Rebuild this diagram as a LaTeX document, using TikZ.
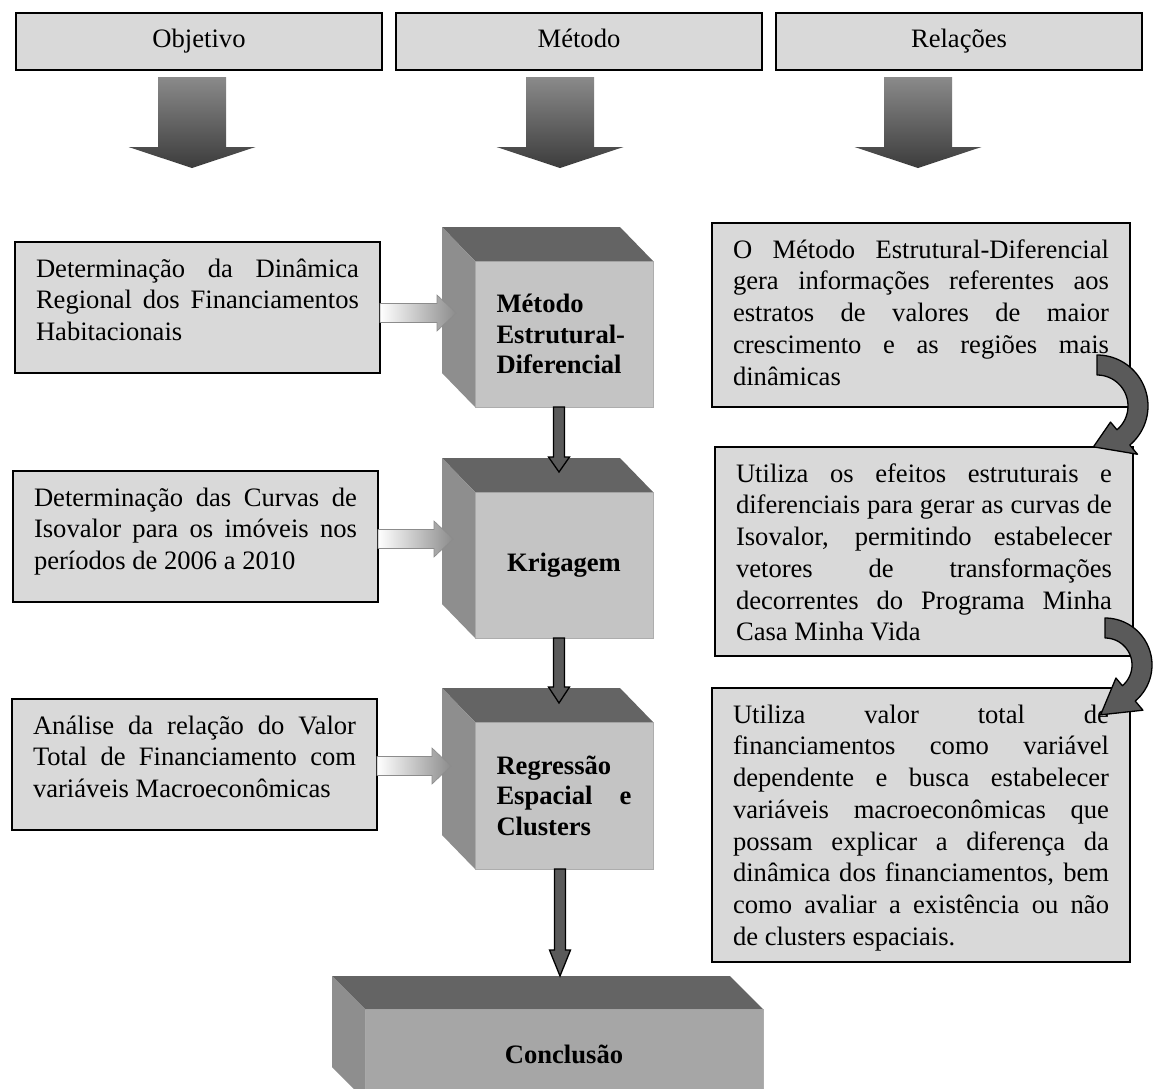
\documentclass[tikz,border=0pt]{standalone}
\usepackage{fontspec}
\setmainfont{Liberation Serif}
\usetikzlibrary{calc}
\definecolor{boxgray}{HTML}{D9D9D9}
\definecolor{frontgray}{HTML}{C4C4C4}
\definecolor{frontdark}{HTML}{A6A6A6}
\definecolor{frontline}{HTML}{ADADAD}
\definecolor{topgray}{HTML}{646464}
\definecolor{leftgray}{HTML}{8E8E8E}
\definecolor{arrgray}{HTML}{5A5A5A}
\definecolor{bigtop}{HTML}{8A8A8A}
\definecolor{bigbot}{HTML}{3C3C3C}
\definecolor{smallarr}{HTML}{8C8C8C}
\tolerance=10000 \hbadness=10000 \hyphenpenalty=10000
\newcommand\tbox[7]{\node[tb] (#1) at (#2,#3) {\parbox[c][#5pt][t]{#4pt}{\strut #7}};}
\newcommand\cubefaces[1]{%
  \fill[topgray] (#1.north west) -- ++(-33,-34) -- ($(#1.north east)+(-33,-34)$) -- (#1.north east) -- cycle;
  \fill[leftgray] (#1.north west) -- ++(-33,-34) -- ($(#1.south west)+(-33,-34)$) -- (#1.south west) -- cycle;}
\newcommand\harrow[2]{%
  \shadedraw[left color=white, right color=smallarr, draw=smallarr, line width=0.6pt]
    ($(#1.east |- #2)+(0,-9.5)$) -- ($(#2)+(-19,-9.5)$) -- ($(#2)+(-19,-18)$) -- (#2)
    -- ($(#2)+(-19,18)$) -- ($(#2)+(-19,9.5)$) -- ($(#1.east |- #2)+(0,9.5)$) -- cycle;}
\newcommand\varrow[3]{%
  \draw[fill=arrgray, draw=black, line width=1.3pt, line join=miter]
    ($(#1.south -| #2)+(-5.5,0)$) -- ($(#2)+(-5.5,-#3)$) -- ($(#2)+(-10.5,-#3)$) -- (#2)
    -- ($(#2)+(10.5,-#3)$) -- ($(#2)+(5.5,-#3)$) -- ($(#1.south -| #2)+(5.5,0)$) -- cycle;}
\newcommand\bigdown[2]{%
  \shade[top color=bigtop, bottom color=bigbot]
    ($(#1.south)+(#2-34,7)$) -- ($(#1.south)+(#2+34,7)$) -- ($(#1.south)+(#2+34,77)$)
    -- ($(#1.south)+(#2+63.5,77)$) -- ($(#1.south)+(#2,98)$) -- ($(#1.south)+(#2-63.5,77)$)
    -- ($(#1.south)+(#2-34,77)$) -- cycle;}
% curved arrow: centre x, centre y, outer radius, tip radius
\newcommand\curvarr[4]{%
  \draw[fill=arrgray, draw=black, line width=1.3pt, line join=round]
    plot[domain=-90:50, samples=40] ({#1+#3*cos(\x)},{#2+#3*sin(\x)})
    -- ({#1+(#3+12)*cos(50)},{#2+(#3+12)*sin(50)})
    -- ({#1+#4*cos(95)},{#2+#4*sin(95)})
    -- ({#1+(#3-30)*cos(50)},{#2+(#3-30)*sin(50)})
    -- plot[domain=50:-90, samples=40] ({#1+(#3-20)*cos(\x)},{#2+(#3-20)*sin(\x)})
    -- cycle;}
\begin{document}
\begin{tikzpicture}[x=1pt,y=-1pt,
  every node/.style={font=\fontsize{26.6}{31.7}\selectfont, outer sep=0pt},
  hb/.style={draw=black, line width=1.8pt, fill=boxgray, minimum width=366pt, minimum height=57pt, anchor=north west, inner sep=0pt, text height=18pt, text depth=6pt},
  tb/.style={draw=black, line width=1.8pt, fill=boxgray, anchor=north west, inner xsep=21pt, inner ysep=13pt},
  cubefront/.style={fill=frontgray, draw=frontline, line width=1pt, anchor=north west, minimum width=178pt, inner sep=0pt, text width=135pt, align=left, font=\bfseries\fontsize{26.6}{30.5}\selectfont}
]
\useasboundingbox (0,0) rectangle (1153,1088);
\clip (0,0) rectangle (1153,1088);
\fill[white] (0,0) rectangle (1153,1088);

% headers
\node[hb] (h1) at (16,13) {Objetivo};
\node[hb] (h2) at (396,13) {Método};
\node[hb] (h3) at (776,13) {Relações};
\bigdown{h1}{-7}
\bigdown{h2}{-19}
\bigdown{h3}{-41}

% left boxes
\tbox{b1}{15}{242}{323}{105}{}{Determinação da Dinâmica\linebreak Regional dos Financiamentos\linebreak Habitacionais}
\tbox{b2}{13}{471}{323}{105}{}{Determinação das Curvas de\linebreak Isovalor para os imóveis nos\linebreak períodos de 2006 a 2010}
\tbox{b3}{12}{699}{323}{105}{}{Análise da relação do Valor\linebreak Total de Financiamento com\linebreak variáveis Macroeconômicas}

% right boxes
\tbox{r1}{712}{223}{376}{158}{}{O Método Estrutural-Diferencial\linebreak gera informações referentes aos\linebreak estratos de valores de maior\linebreak crescimento e as regiões mais\linebreak dinâmicas}
\tbox{r2}{715}{447}{376}{183}{}{Utiliza os efeitos estruturais e\linebreak diferenciais para gerar as curvas de\linebreak Isovalor, permitindo estabelecer\linebreak vetores de transformações\linebreak decorrentes do Programa Minha\linebreak Casa Minha Vida}
\tbox{r3}{712}{688}{376}{248}{}{Utiliza valor total de\linebreak financiamentos como variável\linebreak dependente e busca estabelecer\linebreak variáveis macroeconômicas que\linebreak possam explicar a diferença da\linebreak dinâmica dos financiamentos, bem\linebreak como avaliar a existência ou não\linebreak de clusters espaciais.}

% cubes
\node[cubefront, minimum height=146pt] (c1) at (475,261) {Método\\Estrutural-\\Diferencial};
\node[cubefront, minimum height=146pt, align=center] (c2) at (475,492) {Krigagem};
\node[cubefront, minimum height=147pt] (c3) at (475,722) {Regressão\\Espacial\hfill e\\Clusters};
\node[cubefront, fill=frontdark, minimum width=398pt, minimum height=91pt, text width=300pt, align=center] (c4) at (365,1009) {Conclusão};
\cubefaces{c1}
\cubefaces{c2}
\cubefaces{c3}
\fill[topgray] (c4.north west) -- ++(-33,-33) -- ($(c4.north east)+(-33,-33)$) -- (c4.north east) -- cycle;
\fill[leftgray] (c4.north west) -- ++(-33,-33) -- ($(c4.south west)+(-33,-33)$) -- (c4.south west) -- cycle;

% horizontal arrows
\coordinate (t1) at (456,313);
\coordinate (t2) at (453,539);
\coordinate (t3) at (451,766);
\harrow{b1}{t1}
\harrow{b2}{t2}
\harrow{b3}{t3}

% vertical arrows
\coordinate (v1) at (559,472);
\coordinate (v2) at (559,703);
\coordinate (v3) at (560,976);
\varrow{c1}{v1}{15}
\varrow{c2}{v2}{16}
\varrow{c3}{v3}{26}

% curved arrows
\curvarr{1097}{406}{51}{41}
\curvarr{1105}{665}{47}{50}
\end{tikzpicture}
\end{document}
